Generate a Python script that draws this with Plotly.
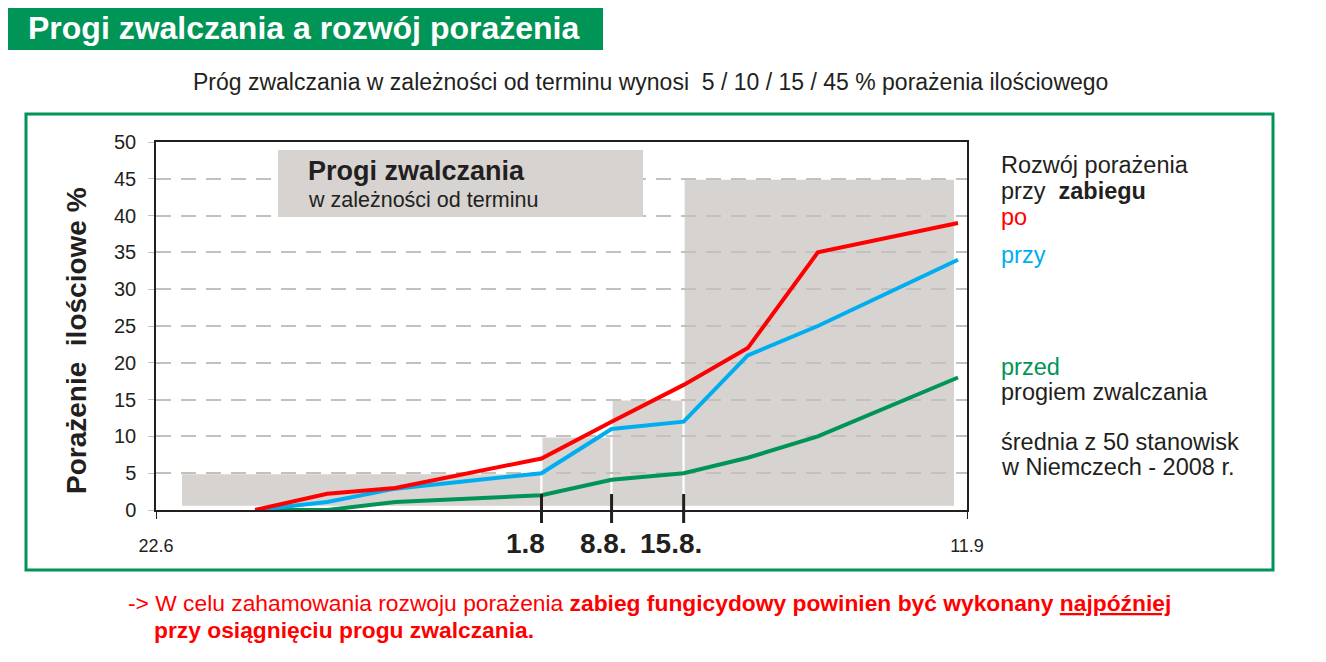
import plotly.graph_objects as go

days = [9.9, 17.1, 23.9, 31.1, 38.5, 45.5, 52.7, 59.1, 66.1, 80.1]
po = [0, 2.2, 3.0, 5.0, 7.0, 12.0, 17.0, 22.0, 35.0, 39.0]
przy = [0, 1.1, 2.9, 4.0, 5.0, 11.0, 12.0, 21.0, 25.0, 34.0]
przed = [0, 0, 1.1, 1.6, 2.0, 4.1, 5.0, 7.1, 10.0, 18.0]

# control thresholds by date window
thr_start = [2.5, 38.5, 45.5, 52.7]
thr_end = [38.5, 45.5, 52.7, 79.8]
thr_pct = [5, 10, 15, 45]
thr_tick_days = [38.5, 45.5, 52.7]
thr_labels = ["1.8", "8.8.", "15.8."]
thr_label_days = [36.9, 44.65, 51.45]

axis_end_labels = ["22.6", "11.9"]
axis_end_days = [0, 81]
y_ticks = list(range(0, 55, 5))

RED = "#ff0000"
BLUE = "#00aeef"
GREEN = "#009456"
DARK = "#231f20"
GREY = "#d6d3d0"
GRID = "#c4c0bc"
FONT = "Liberation Sans, Arial, sans-serif"

# page body margin, and plot area in page pixels
OFF = 8
L, T, W, H = 156, 142, 811, 368
FIG_W, FIG_H = 1326 - OFF, 662 - OFF


def fx(px):
    return (px - L) / W


def fy(py):
    return (T + H - py) / H


fig = go.Figure()
for vals, col in ((przed, GREEN), (przy, BLUE), (po, RED)):
    fig.add_trace(go.Scatter(x=days, y=vals, mode="lines",
                             line=dict(color=col, width=4), hoverinfo="skip"))

shapes = []
for x0, x1, pct in zip(thr_start, thr_end, thr_pct):
    shapes.append(dict(type="rect", xref="x", yref="y", x0=x0, x1=x1, y0=0.45, y1=pct,
                       fillcolor=GREY, line=dict(color="white", width=2), layer="below"))
for d in thr_tick_days:
    shapes.append(dict(type="line", xref="x", yref="paper", x0=d, x1=d,
                       y0=fy(523), y1=fy(494), line=dict(color=DARK, width=3)))

# title bar, outer frame, threshold legend box
shapes.append(dict(type="rect", xref="paper", yref="paper", x0=fx(OFF), x1=fx(603),
                   y0=fy(50), y1=fy(5), fillcolor=GREEN, line=dict(width=0)))
shapes.append(dict(type="rect", xref="paper", yref="paper", x0=fx(26), x1=fx(1273),
                   y0=fy(570), y1=fy(114), line=dict(color=GREEN, width=3)))
shapes.append(dict(type="rect", xref="paper", yref="paper", x0=fx(278), x1=fx(643),
                   y0=fy(217), y1=fy(150), fillcolor=GREY, line=dict(width=0), layer="above"))

ann = []


def text(px, py, s, size, color=DARK, anchor="left", **kw):
    ann.append(dict(xref="paper", yref="paper", x=fx(px), y=fy(py), text=s, showarrow=False,
                    xanchor=anchor, yanchor="middle", font=dict(size=size, color=color, family=FONT), **kw))


text(26, 28, "<b>Progi zwalczania a rozwój porażenia</b>", 32, "white")
text(650, 82, "Próg zwalczania w zależności od terminu wynosi  5 / 10 / 15 / 45 % porażenia ilościowego",
     23, anchor="center")
text(306, 171, "<b>Progi zwalczania</b>", 27)
text(306, 200, "w zależności od terminu", 21.5)
text(76, 341, "<b>Porażenie  ilościowe %</b>", 28, anchor="center", textangle=-90)

RS = 23.5
text(999, 165, "Rozwój porażenia", RS)
text(999, 191, "przy  <b>zabiegu</b>", RS)
text(999, 217, "po", RS, RED)
text(999, 255, "przy", RS, BLUE)
text(999, 367, "przed", RS, GREEN)
text(999, 392, "progiem zwalczania", RS)
text(999, 442, "średnia z 50 stanowisk", RS)
text(999, 467, "w Niemczech - 2008 r.", RS)

text(126, 603, "-> W celu zahamowania rozwoju porażenia <b>zabieg fungicydowy powinien być wykonany "
     "<u>najpóźniej</u></b>", 22.8, RED)
text(152, 630, "<b>przy osiągnięciu progu zwalczania.</b>", 22.8, RED)

for d, lab in zip(thr_label_days, thr_labels):
    ann.append(dict(xref="x", yref="paper", x=d, y=fy(543), text=f"<b>{lab}</b>", showarrow=False,
                    xanchor="center", yanchor="middle", font=dict(size=28, color=DARK, family=FONT)))

fig.update_layout(
    width=FIG_W, height=FIG_H, autosize=False,
    margin=dict(l=L - OFF, r=FIG_W - (L - OFF) - W, t=T - OFF, b=FIG_H - (T - OFF) - H),
    paper_bgcolor="white", plot_bgcolor="white",
    showlegend=False, hovermode=False,
    shapes=shapes, annotations=ann,
    font=dict(family=FONT, color=DARK),
    xaxis=dict(range=[0, 81], tickvals=axis_end_days, ticktext=axis_end_labels,
               showgrid=False, zeroline=False, showline=True, mirror=True,
               linecolor=DARK, linewidth=1.5, ticks="outside", ticklen=7, tickcolor=DARK,
               tickfont=dict(size=18, color=DARK), ticklabelstandoff=12),
    yaxis=dict(range=[0, 50], tickvals=y_ticks, showgrid=True, gridcolor=GRID, gridwidth=2,
               griddash="15px,10px", zeroline=False, showline=True, mirror=True,
               linecolor=DARK, linewidth=1.5, ticks="outside", ticklen=6, tickcolor=GRID,
               tickfont=dict(size=20, color=DARK), ticklabelstandoff=8),
)

fig.write_html("out.html")
